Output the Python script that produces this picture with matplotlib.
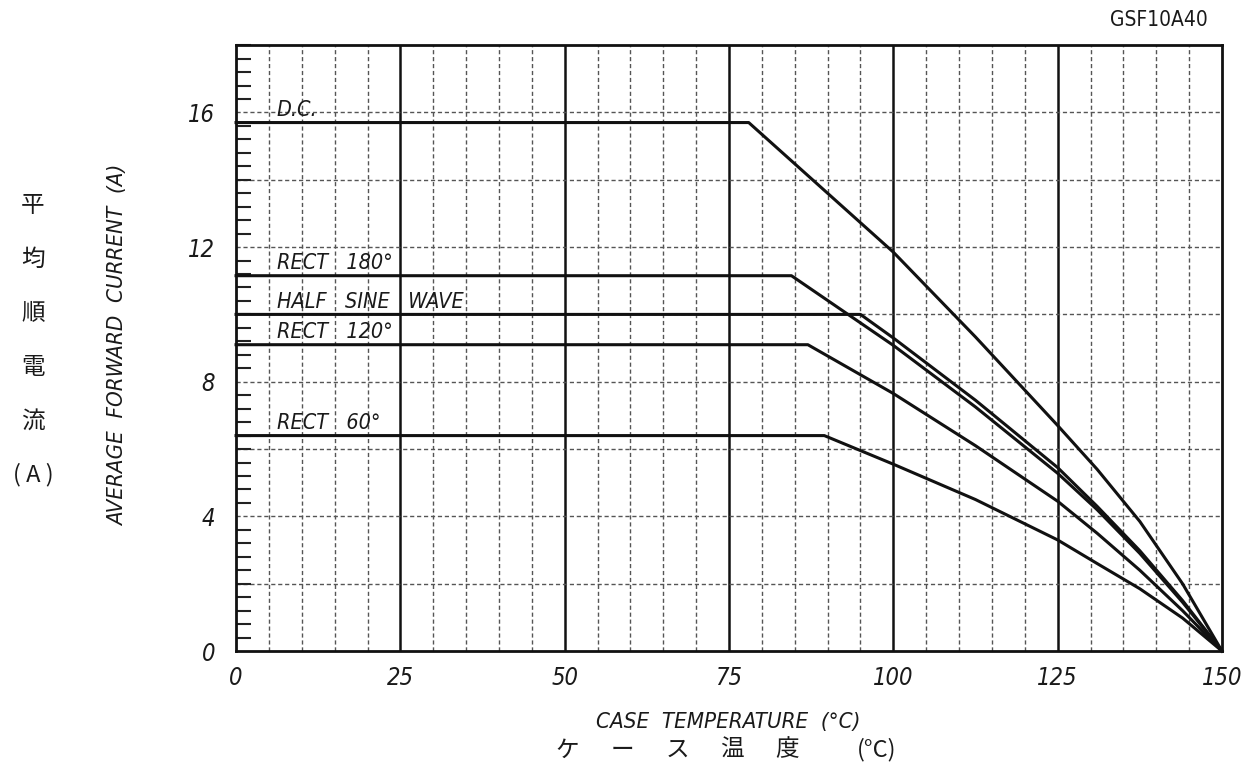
import matplotlib
matplotlib.use("Agg")
import matplotlib.pyplot as plt
import numpy as np
from matplotlib.ticker import MultipleLocator

# derating curves (case temp degC, average current A)
dc_t = [0, 78, 90, 100, 112.5, 125, 131, 137.5, 144, 150]
dc_i = [15.7, 15.7, 13.6, 11.85, 9.33, 6.7, 5.4, 3.85, 2.0, 0]

r180_t = [0, 84.5, 100, 112.5, 125, 131, 137.5, 144, 150]
r180_i = [11.15, 11.15, 9.08, 7.25, 5.28, 4.2, 2.9, 1.45, 0]

hsw_t = [0, 95, 100, 112.5, 125, 131, 137.5, 144, 150]
hsw_i = [10.0, 10.0, 9.3, 7.45, 5.45, 4.3, 2.98, 1.5, 0]

r120_t = [0, 87, 100, 112.5, 125, 131, 137.5, 144, 150]
r120_i = [9.1, 9.1, 7.65, 6.1, 4.45, 3.5, 2.4, 1.2, 0]

r60_t = [0, 89.5, 100, 112.5, 125, 131, 137.5, 144, 150]
r60_i = [6.4, 6.4, 5.55, 4.5, 3.3, 2.6, 1.85, 0.98, 0]

labels = ["D.C.", "RECT   180°", "HALF   SINE   WAVE", "RECT   120°", "RECT   60°"]
label_y = [15.7, 11.15, 10.0, 9.1, 6.4]

xticks = [0, 25, 50, 75, 100, 125, 150]
yticks = [0, 4, 8, 12, 16]
jp_ylabel = ["平", "均", "順", "電", "流", "( A )"]
jp_xlabel = ["ケ", "ー", "ス", "温", "度"]

narrow = ["DejaVu Sans"]
jp = ["Noto Sans CJK JP", "DejaVu Sans"]
txt = dict(family=narrow, stretch="condensed", color="#1a1a1a")

fig = plt.figure(figsize=(12.45, 7.65), dpi=100)
ax = fig.add_axes([0.1896, 0.149, 0.7919, 0.792])

ax.set_xlim(0, 150)
ax.set_ylim(0, 18)

# grid: solid every 25, dashed every 5 / every 2 A
for x in range(5, 150, 5):
    if x % 25 == 0:
        ax.axvline(x, color="#111111", lw=1.8, zorder=1)
    else:
        ax.axvline(x, color="#555555", lw=1.0, ls=(0, (3, 2)), zorder=1)
for y in range(2, 18, 2):
    ax.axhline(y, color="#555555", lw=1.0, ls=(0, (3, 2)), zorder=1)

for t, i in [(dc_t, dc_i), (r180_t, r180_i), (hsw_t, hsw_i), (r120_t, r120_i), (r60_t, r60_i)]:
    ax.plot(t, i, color="#111111", lw=2.2, zorder=3, clip_on=False,
            solid_joinstyle="round")

for lab, y in zip(labels, label_y):
    ax.text(6.2, y + 0.2, lab, fontsize=15.5, style="italic", va="baseline",
            ha="left", zorder=4, **txt)

for sp in ax.spines.values():
    sp.set_linewidth(2.0)
    sp.set_color("#111111")

ax.set_xticks(xticks)
ax.set_yticks(yticks)
ax.yaxis.set_minor_locator(MultipleLocator(0.4))
ax.tick_params(axis="both", which="major", length=0, pad=11)
ax.tick_params(axis="y", which="major", pad=15)
ax.tick_params(axis="y", which="minor", direction="in", length=11, width=1.5,
               color="#222222")
ax.tick_params(axis="x", which="minor", length=0)
for lbl in ax.get_xticklabels() + ax.get_yticklabels():
    lbl.set_family(narrow)
    lbl.set_stretch("condensed")
    lbl.set_style("italic")
    lbl.set_fontsize(17)
    lbl.set_color("#1a1a1a")

fig.text(1208 / 1245, 1 - 20 / 765, "GSF10A40", ha="right", va="center",
         fontsize=15, **txt)

fig.text(118 / 1245, 1 - 345 / 765, "AVERAGE  FORWARD  CURRENT  (A)",
         rotation=90, ha="center", va="center", fontsize=16, style="italic", **txt)
for k, ch in enumerate(jp_ylabel):
    fig.text(33 / 1245, 1 - (205 + 54 * k) / 765, ch, ha="center", va="center",
             fontsize=17, family=jp, color="#1a1a1a")

fig.text(728 / 1245, 1 - 722 / 765, "CASE  TEMPERATURE  (°C)", ha="center",
         va="center", fontsize=16, style="italic", **txt)
for k, ch in enumerate(jp_xlabel):
    fig.text((567 + 55 * k) / 1245, 1 - 750 / 765, ch, ha="center", va="center",
             fontsize=17, family=jp, color="#1a1a1a")
fig.text(877 / 1245, 1 - 750 / 765, "(°C)", ha="center", va="center",
         fontsize=17, family=jp, color="#1a1a1a")

fig.savefig("out.png", dpi=100, facecolor="white")
